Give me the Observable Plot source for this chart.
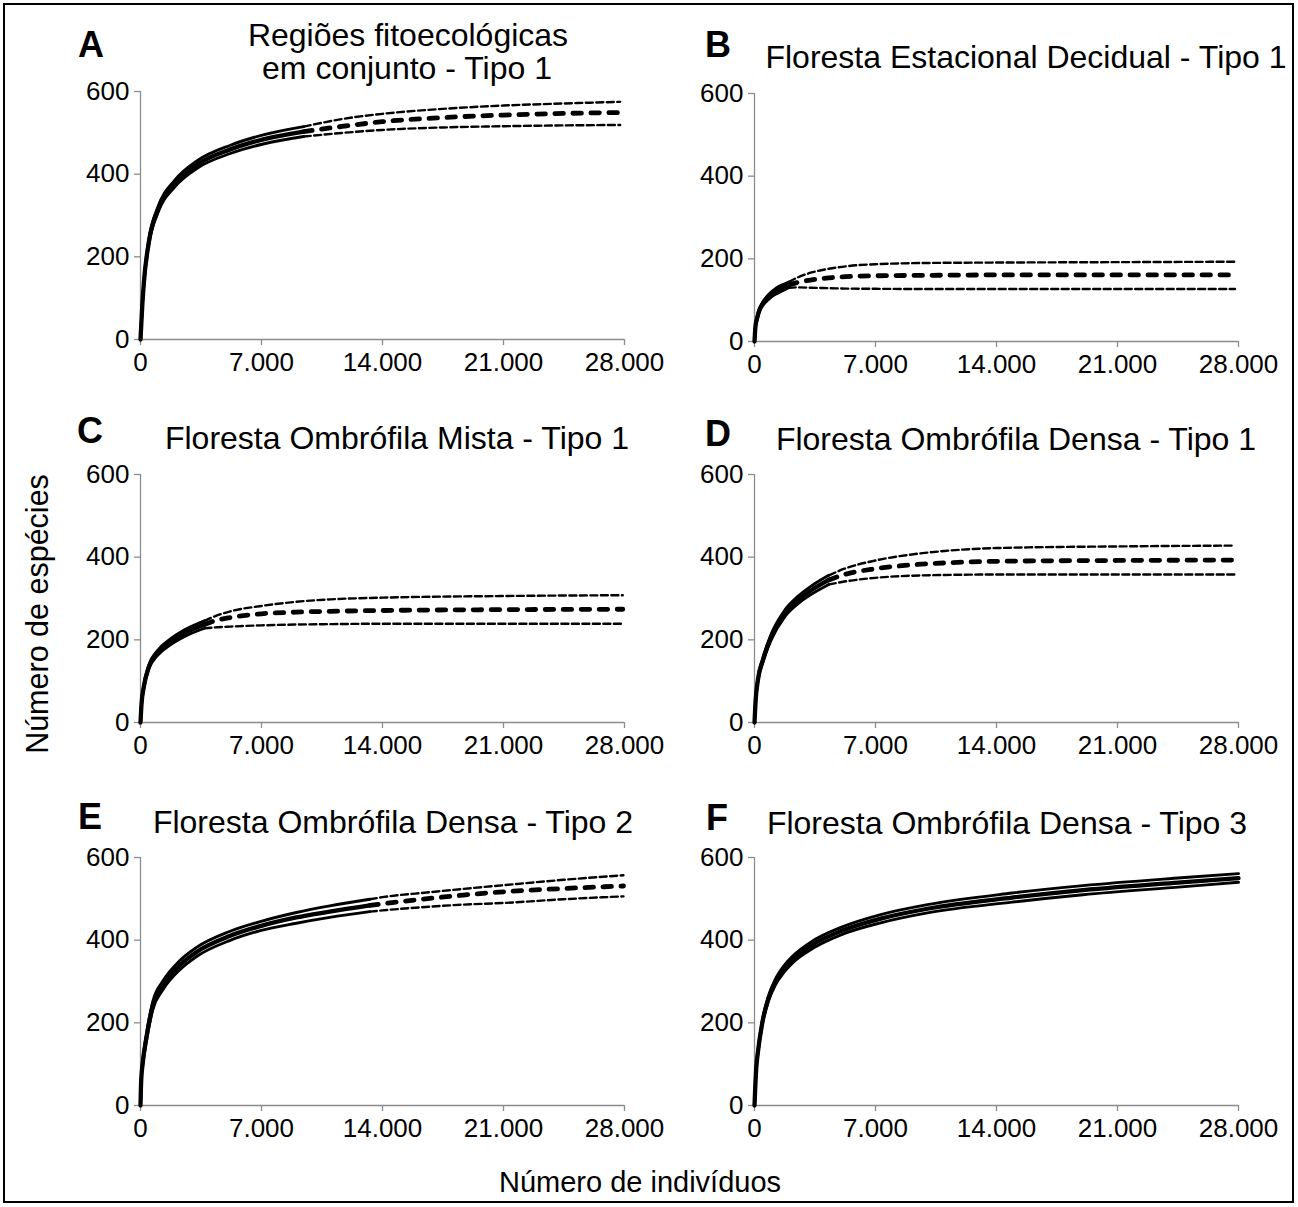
<!DOCTYPE html>
<html><head><meta charset="utf-8">
<script src="https://cdn.jsdelivr.net/npm/d3@7"></script>
<script src="https://cdn.jsdelivr.net/npm/@observablehq/plot@0.6"></script>
<style>
body{margin:0;background:#fff;}
#wrap{position:relative;width:1298px;height:1207px;font-family:"Liberation Sans",Arial,sans-serif;color:#000;overflow:hidden;background:#fff;}
#border{position:absolute;left:3px;top:3px;width:1287px;height:1196px;border:2.5px solid #000;}
.t{position:absolute;transform:translate(-50%,-50%);white-space:nowrap;line-height:1;}
.title{font-size:32px;}
.letter{font-size:36px;font-weight:bold;}
.axt{font-size:29px;}
.axty{font-size:30.5px;}
svg.panel{position:absolute;overflow:visible;}
</style></head><body><div id="wrap"><div id="border"></div></div>
<script>
// ---- Data ----
const xTicks = [0, 7000, 14000, 21000, 28000];
const yTicks = [0, 200, 400, 600];
const panelLetters = ["A", "B", "C", "D", "E", "F"];
const panelTitles = [
  ["Regiões fitoecológicas", "em conjunto - Tipo 1"],
  ["Floresta Estacional Decidual - Tipo 1"],
  ["Floresta Ombrófila Mista - Tipo 1"],
  ["Floresta Ombrófila Densa - Tipo 1"],
  ["Floresta Ombrófila Densa - Tipo 2"],
  ["Floresta Ombrófila Densa - Tipo 3"]
];
const yAxisTitle = "Número de espécies";
const xAxisTitle = "Número de indivíduos";

// A  (observed sample size, then x / mean / lower / upper)
const A_n = 9443;
const A_x    = [0, 100, 200, 500, 1000, 2000, 3300, 5200, 7100, 9443, 11750, 14000, 17500, 21000, 24500, 27750];
const A_mean = [0, 80, 140, 240, 313, 378, 424, 460, 484, 503, 516, 527, 537, 543, 547, 549];
const A_lo   = [0, 78, 136, 234, 306, 370, 415, 450, 473, 491, 500, 507, 513, 516, 518, 519];
const A_hi   = [0, 82, 144, 246, 320, 386, 433, 470, 495, 515, 534, 546, 558, 566, 571, 575];
// B
const B_n = 1980;
const B_x    = [0, 60, 150, 250, 400, 640, 900, 1210, 1600, 1980, 2500, 3300, 4300, 5300, 7000, 10000, 14000, 21000, 27800];
const B_mean = [0, 38, 56, 72, 86, 100, 111, 121, 130, 137, 143, 149, 154, 157, 159, 160, 161, 161, 161];
const B_lo   = [0, 36, 53, 68, 82, 95, 105, 114, 122, 130, 131, 130, 129, 128, 127.5, 127, 127, 127, 127];
const B_hi   = [0, 40, 59, 76, 90, 105, 117, 128, 137, 144, 155, 167, 176, 182, 187, 190, 191, 192, 193];
// C
const C_n = 3700;
const C_x    = [0, 60, 190, 480, 960, 1730, 2500, 3700, 4300, 5200, 7000, 9000, 11000, 14000, 21000, 27900];
const C_mean = [0, 45, 86, 134, 167, 195, 215, 237, 246, 254, 263, 267, 269, 271, 273, 274];
const C_lo   = [0, 43, 82, 129, 161, 188, 207, 228, 230, 232, 235, 237, 238, 239, 239, 239];
const C_hi   = [0, 47, 90, 139, 173, 202, 223, 246, 257, 269, 282, 292, 298, 302, 306, 308];
// D
const D_n = 4300;
const D_x    = [0, 60, 193, 480, 965, 1737, 2510, 3280, 4300, 5200, 7000, 9000, 11000, 14000, 21000, 27800];
const D_mean = [0, 50, 102, 150, 207, 263, 296, 320, 345, 358, 372, 381, 386, 390, 392, 393];
const D_lo   = [0, 48, 98, 145, 200, 255, 287, 310, 334, 341, 350, 355, 357, 358, 358, 358];
const D_hi   = [0, 52, 106, 155, 214, 271, 305, 330, 356, 372, 392, 406, 415, 422, 426, 428];
// E
const E_n = 13266;
const E_x    = [0, 40, 135, 330, 714, 1294, 2260, 3225, 5156, 6932, 9018, 10950, 13266, 14000, 16740, 18670, 21000, 24470, 27940];
const E_mean = [0, 60, 105, 161, 242, 291, 339, 371, 410, 434, 455, 469, 484, 488, 501, 509, 517, 525, 531];
const E_lo   = [0, 57, 99, 153, 232, 280, 328, 360, 399, 423, 441, 455, 469, 472, 481, 486, 490, 499, 506];
const E_hi   = [0, 63, 111, 169, 252, 301, 350, 382, 421, 445, 467, 483, 499, 504, 516, 524, 533, 546, 557];
// F
const F_n = 28000;
const F_x    = [0, 100, 200, 450, 800, 1200, 1700, 2200, 3400, 5000, 7300, 10000, 14900, 19000, 24700, 28000];
const F_mean = [0, 90, 130, 200, 258, 298, 330, 353, 390, 422, 452, 476, 503, 521, 540, 550];
const F_lo   = [0, 87, 126, 195, 252, 291, 322, 345, 381, 413, 442, 466, 492, 510, 529, 540];
const F_hi   = [0, 93, 134, 205, 264, 305, 338, 361, 399, 431, 462, 486, 514, 532, 551, 561];

const series = [
  {n: A_n, x: A_x, mean: A_mean, lo: A_lo, hi: A_hi},
  {n: B_n, x: B_x, mean: B_mean, lo: B_lo, hi: B_hi},
  {n: C_n, x: C_x, mean: C_mean, lo: C_lo, hi: C_hi},
  {n: D_n, x: D_x, mean: D_mean, lo: D_lo, hi: D_hi},
  {n: E_n, x: E_x, mean: E_mean, lo: E_lo, hi: E_hi},
  {n: F_n, x: F_x, mean: F_mean, lo: F_lo, hi: F_hi}
];

// ---- Layout ----
const layout = [
  {left: 60, top: 61, letter: [91, 45], title: [[408, 35], [407, 68]]},
  {left: 674, top: 63, letter: [718, 45], title: [[1026, 57]]},
  {left: 60, top: 444, letter: [90, 431], title: [[397, 438]]},
  {left: 674, top: 444, letter: [718, 434], title: [[1016, 439]]},
  {left: 60, top: 827, letter: [90, 817], title: [[393, 822]]},
  {left: 674, top: 827, letter: [717, 818], title: [[1007, 823]]}
];

const fmt = d3.formatLocale({decimal: ",", thousands: ".", grouping: [3], currency: ["R$", ""]}).format(",");
const wrap = document.getElementById("wrap");
const curve = "monotone-x";
const axisColor = "#8c8c8c";

function addText(cls, txt, cx, cy, rot) {
  const d = document.createElement("div");
  d.className = "t " + cls;
  d.textContent = txt;
  d.style.left = cx + "px";
  d.style.top = cy + "px";
  if (rot) d.style.transform = "translate(-50%,-50%) rotate(" + rot + "deg)";
  wrap.appendChild(d);
}

series.forEach((s, i) => {
  const rows = s.x.map((x, j) => ({x, mean: s.mean[j], lo: s.lo[j], hi: s.hi[j]}));
  const interp = rows.filter(r => r.x <= s.n);
  const extrap = rows.filter(r => r.x >= s.n);
  const L = layout[i];
  const marks = [
    Plot.ruleX([0], {stroke: axisColor, strokeWidth: 1.3}),
    Plot.ruleY([0], {stroke: axisColor, strokeWidth: 1.3}),
    Plot.axisX({ticks: xTicks, tickFormat: fmt, tickSize: 6, tickPadding: 7, stroke: axisColor, strokeWidth: 1.3, fill: "black", label: null}),
    Plot.axisY({ticks: yTicks, tickFormat: d => String(d), tickSize: 6, tickPadding: 5, stroke: axisColor, strokeWidth: 1.3, fill: "black", label: null}),
    Plot.line(interp, {x: "x", y: "lo", stroke: "black", strokeWidth: 2.9, curve}),
    Plot.line(interp, {x: "x", y: "hi", stroke: "black", strokeWidth: 2.9, curve}),
    Plot.line(interp, {x: "x", y: "mean", stroke: "black", strokeWidth: 4.3, curve})
  ];
  if (extrap.length > 1) {
    marks.push(
      Plot.line(extrap, {x: "x", y: "lo", stroke: "black", strokeWidth: 2.4, strokeDasharray: "7,3.5", curve}),
      Plot.line(extrap, {x: "x", y: "hi", stroke: "black", strokeWidth: 2.4, strokeDasharray: "7,3.5", curve}),
      Plot.line(extrap, {x: "x", y: "mean", stroke: "black", strokeWidth: 4.8, strokeDasharray: "8.5,9.5", strokeLinecap: "round", curve})
    );
  }
  const svg = Plot.plot({
    width: 608, height: 323,
    marginLeft: 80, marginRight: 44, marginTop: 30, marginBottom: 45,
    x: {domain: [0, 28000], axis: null},
    y: {domain: [0, 600], axis: null},
    style: {fontFamily: "'Liberation Sans', Arial, sans-serif", fontSize: "26px", background: "transparent", overflow: "visible", color: "black"},
    marks
  });
  svg.classList.add("panel");
  svg.style.left = L.left + "px";
  svg.style.top = L.top + "px";
  svg.style.maxWidth = "none";
  wrap.appendChild(svg);
  addText("letter", panelLetters[i], L.letter[0], L.letter[1]);
  panelTitles[i].forEach((line, k) => addText("title", line, L.title[k][0], L.title[k][1]));
});

addText("axty", yAxisTitle, 37, 614, -90);
addText("axt", xAxisTitle, 640, 1182);
</script></body></html>
